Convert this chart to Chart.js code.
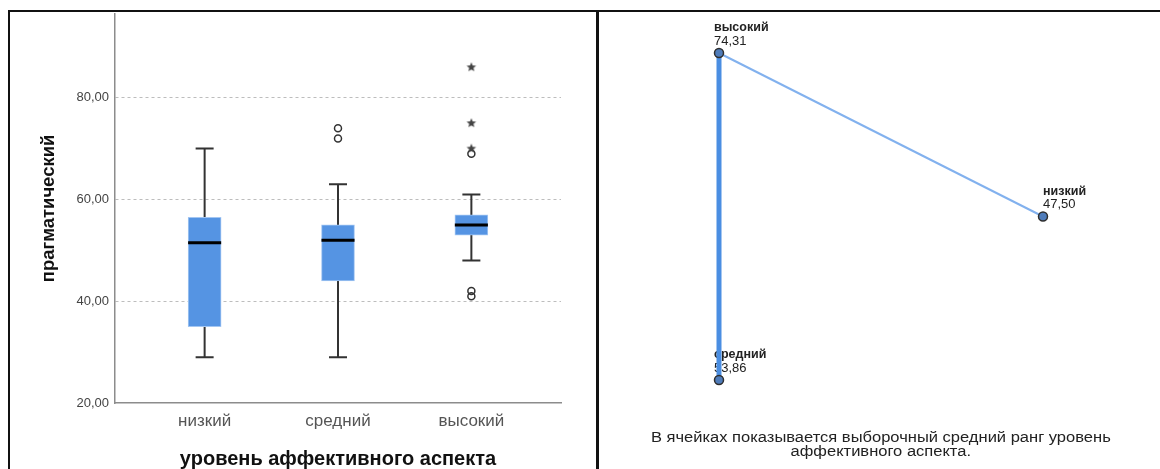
<!DOCTYPE html>
<html><head><meta charset="utf-8">
<script src="https://cdn.jsdelivr.net/npm/chart.js@4.4.1/dist/chart.umd.min.js"></script>
<style>
html,body{margin:0;padding:0;background:#fff;width:1160px;height:469px;overflow:hidden;position:relative;font-family:'Liberation Sans',Arial,sans-serif}
#c1{position:absolute;left:0;top:0}
#c2{position:absolute;left:600px;top:0}
#frame{position:absolute;left:8px;top:10px;width:1160px;height:470px;border-top:2px solid #111;border-left:2px solid #111;box-sizing:border-box}
#divider{position:absolute;left:596px;top:10px;width:3px;height:459px;background:#111}
#caption{position:absolute;left:601px;width:560px;top:430px;text-align:center;font-size:14px;line-height:14px;color:#222;transform:scaleX(1.18);transform-origin:281px 0}
</style></head><body>
<canvas id="c1" width="598" height="469"></canvas>
<canvas id="c2" width="560" height="469"></canvas>
<div id="frame"></div><div id="divider"></div>
<div id="caption">В ячейках показывается выборочный средний ранг уровень<br>аффективного аспекта.</div>
<script>
// ---- data: box plot (left) ----
const categories = ['низкий', 'средний', 'высокий'];
const whiskerLow = [29, 29, 48];
const quartile1 = [35, 44, 53];
const medians = [51.5, 52, 55];
const quartile3 = [56.5, 55, 57];
const whiskerHigh = [70, 63, 61];
const circleOutlierGroup = [2, 2, 3, 3, 3];
const circleOutlierValue = [74, 72, 69, 42, 41];
const starOutlierGroup = [3, 3, 3];
const starOutlierValue = [86, 75, 70];
const yTickValues = [20, 40, 60, 80];
const yGridValues = [40, 60, 80];
// ---- data: pairwise graph (right) ----
const meanRanks = [47.50, 53.86, 74.31];
const nodeLayoutX = [1, 0, 0];
const nodeLayoutY = [0.5, 0, 1];
const edgeFrom = [2, 2];
const edgeTo = [1, 0];
const edgeStrong = [true, false];

const FONT = "'Liberation Sans', Arial, sans-serif";
const fmt = v => v.toFixed(2).replace('.', ',');

function makeStar(r, color) {
  const s = Math.ceil(r * 2 + 2);
  const c = document.createElement('canvas');
  c.width = s; c.height = s;
  const g = c.getContext('2d');
  g.fillStyle = color;
  g.beginPath();
  for (let i = 0; i < 10; i++) {
    const a = -Math.PI / 2 + i * Math.PI / 5;
    const rr = i % 2 ? r * 0.45 : r;
    g.lineTo(s / 2 + rr * Math.cos(a), s / 2 + rr * Math.sin(a));
  }
  g.closePath(); g.fill();
  return c;
}

const capHalf = 0.0675, boxHalf = 0.124;
const gap = x => ({x: x, y: null});
const whiskerData = [], capData = [], medianData = [];
categories.forEach((c, i) => {
  const x = i + 1;
  whiskerData.push({x, y: whiskerLow[i]}, {x, y: whiskerHigh[i]}, gap(x + 0.5));
  capData.push({x: x - capHalf, y: whiskerLow[i]}, {x: x + capHalf, y: whiskerLow[i]}, gap(x + 0.5));
  capData.push({x: x - capHalf, y: whiskerHigh[i]}, {x: x + capHalf, y: whiskerHigh[i]}, gap(x + 0.5));
  medianData.push({x: x - boxHalf, y: medians[i]}, {x: x + boxHalf, y: medians[i]}, gap(x + 0.5));
});

new Chart(document.getElementById('c1'), {
  type: 'bar',
  data: {
    datasets: [
      {type: 'bar', data: categories.map((c, i) => ({x: i + 1, y: [quartile1[i], quartile3[i]]})),
       backgroundColor: '#5594e3', borderColor: '#a3c6f2', borderWidth: 1, borderSkipped: false,
       barThickness: 33, order: 2},
      {type: 'line', data: whiskerData, borderColor: '#333', borderWidth: 2, pointRadius: 0, order: 3},
      {type: 'line', data: capData, borderColor: '#333', borderWidth: 2, pointRadius: 0, order: 3},
      {type: 'line', data: medianData, borderColor: '#000', borderWidth: 3, pointRadius: 0, order: 1},
      {type: 'scatter', data: circleOutlierGroup.map((g, i) => ({x: g, y: circleOutlierValue[i]})),
       pointStyle: 'circle', pointRadius: 3.5, backgroundColor: 'rgba(255,255,255,0)',
       borderColor: '#333', borderWidth: 1.5, order: 0},
      {type: 'scatter', data: starOutlierGroup.map((g, i) => ({x: g, y: starOutlierValue[i]})),
       pointStyle: makeStar(5, '#444'), pointRadius: 5, order: -1}
    ]
  },
  options: {
    responsive: false, animation: false, devicePixelRatio: 1,
    layout: {padding: {left: 38, right: 37, top: 13, bottom: 0}},
    plugins: {legend: {display: false}, tooltip: {enabled: false}},
    scales: {
      x: {
        type: 'linear', min: 0.328, max: 3.672, offset: false,
        afterBuildTicks: s => { s.ticks = categories.map((c, i) => ({value: i + 1})); },
        afterFit: s => { s.height = 66; },
        ticks: {callback: v => categories[v - 1], color: '#555', font: {family: FONT, size: 17}, padding: 8, maxRotation: 0, autoSkip: false},
        grid: {display: false, drawTicks: false},
        border: {display: true, color: '#8c8c8c', width: 1.5},
        title: {display: true, text: 'уровень аффективного аспекта', color: '#111',
                font: {family: FONT, size: 20, weight: 'bold', lineHeight: 1}, padding: {top: 0, bottom: 0}}
      },
      y: {
        type: 'linear', min: 20, max: 96.5,
        afterBuildTicks: s => { s.ticks = yTickValues.map(v => ({value: v})); },
        afterFit: s => { s.width = 77; },
        ticks: {callback: v => fmt(v), color: '#444', font: {family: FONT, size: 13}, padding: 6},
        grid: {drawTicks: false, lineWidth: 1,
               color: ctx => yGridValues.includes(ctx.tick && ctx.tick.value) ? '#bdbdbd' : 'rgba(0,0,0,0)'},
        border: {display: true, color: '#8c8c8c', width: 1.5, dash: [3, 3]},
        title: {display: true, text: 'прагматический', color: '#111',
                font: {family: FONT, size: 18.5, weight: 'bold'}, padding: {top: 0, bottom: 0}}
      }
    }
  }
});

// ---- right: pairwise comparison graph ----
const nodeLabels = {
  id: 'nodeLabels',
  beforeDatasetsDraw(chart) {
    const {ctx, scales: {x, y}} = chart;
    ctx.save();
    ctx.fillStyle = '#222'; ctx.textAlign = 'left'; ctx.textBaseline = 'alphabetic';
    categories.forEach((name, i) => {
      const px = x.getPixelForValue(nodeLayoutX[i]);
      const py = y.getPixelForValue(nodeLayoutY[i]);
      const lx = px - 5 + 5 * nodeLayoutX[i];
      ctx.font = 'bold 12.5px ' + FONT;
      ctx.fillText(name, lx, py - 22);
      ctx.font = '13px ' + FONT;
      ctx.fillText(fmt(meanRanks[i]), lx, py - 8.5);
    });
    ctx.restore();
  }
};

const edgeDatasets = edgeFrom.map((f, k) => ({
  type: 'line',
  data: [{x: nodeLayoutX[f], y: nodeLayoutY[f]}, {x: nodeLayoutX[edgeTo[k]], y: nodeLayoutY[edgeTo[k]]}],
  borderColor: edgeStrong[k] ? '#4a8ee2' : '#82b1ee',
  borderWidth: edgeStrong[k] ? 5 : 2,
  pointRadius: 0, clip: false, order: 2
}));

new Chart(document.getElementById('c2'), {
  type: 'scatter',
  data: {
    datasets: [
      ...edgeDatasets,
      {type: 'scatter', data: categories.map((c, i) => ({x: nodeLayoutX[i], y: nodeLayoutY[i]})),
       pointRadius: 4.5, backgroundColor: '#4f7cba', borderColor: '#2e2e2e', borderWidth: 1.5,
       clip: false, order: 0}
    ]
  },
  options: {
    responsive: false, animation: false, devicePixelRatio: 1,
    layout: {padding: {left: 119, right: 117, top: 53, bottom: 89}},
    plugins: {legend: {display: false}, tooltip: {enabled: false}},
    scales: {
      x: {type: 'linear', min: 0, max: 1, display: false},
      y: {type: 'linear', min: 0, max: 1, display: false}
    }
  },
  plugins: [nodeLabels]
});
</script>
</body></html>
